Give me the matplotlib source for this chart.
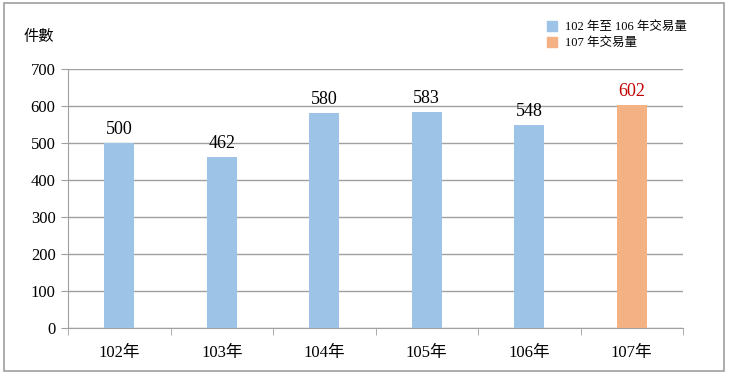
import matplotlib.pyplot as plt
from matplotlib.patches import Rectangle, Patch

plt.rcParams['font.family'] = ['Liberation Serif', 'Noto Sans CJK TC']

years = ['102年', '103年', '104年', '105年', '106年', '107年']
counts = [500, 462, 580, 583, 548, 602]
bar_colors = ['#9DC3E6'] * 5 + ['#F4B183']
label_colors = ['black'] * 5 + ['#C00000']
legend_labels = ['102 年至 106 年交易量', '107 年交易量']

fig = plt.figure(figsize=(7.3, 3.77), dpi=100)
ax = fig.add_axes([68 / 730, 1 - 328 / 377, 615 / 730, 259 / 377])

x = list(range(len(years)))
ax.bar(x, counts, width=0.29, color=bar_colors, zorder=3)
for xi, v, c in zip(x, counts, label_colors):
    ax.text(xi, v + 14, str(v), ha='center', va='bottom', fontsize=13, color=c)

ax.set_xlim(-0.5, len(years) - 0.5)
ax.set_ylim(0, 700)
ax.set_yticks(range(0, 701, 100))
ax.tick_params(axis='y', labelsize=12, length=5, color='#A0A0A0', pad=4)
ax.set_xticks(x)
ax.set_xticklabels(years, fontsize=12)
ax.set_xticks([i - 0.5 for i in range(len(years) + 1)], minor=True)
ax.tick_params(axis='x', which='major', length=0, pad=12)
ax.tick_params(axis='x', which='minor', length=5, color='#A0A0A0')
ax.yaxis.grid(True, color='#A0A0A0', linewidth=1, zorder=0)
for s in ['top', 'right']:
    ax.spines[s].set_visible(False)
for s in ['left', 'bottom']:
    ax.spines[s].set_color('#A0A0A0')

fig.text(24 / 730, 1 - 37 / 377, '件數', fontsize=11, va='center')

handles = [Patch(color=c) for c in ['#9DC3E6', '#F4B183']]
fig.legend(handles, legend_labels, loc='upper left', bbox_to_anchor=(536 / 730, 1 - 10 / 377),
           frameon=False, fontsize=9, handlelength=0.8, handleheight=0.8,
           handletextpad=0.6, labelspacing=0.3)

fig.patches.append(Rectangle((4 / 730, 6 / 377), 720 / 730, 368 / 377, transform=fig.transFigure,
                             fill=False, edgecolor='#A0A0A0', linewidth=1.2))

fig.savefig('out.png', dpi=100)
